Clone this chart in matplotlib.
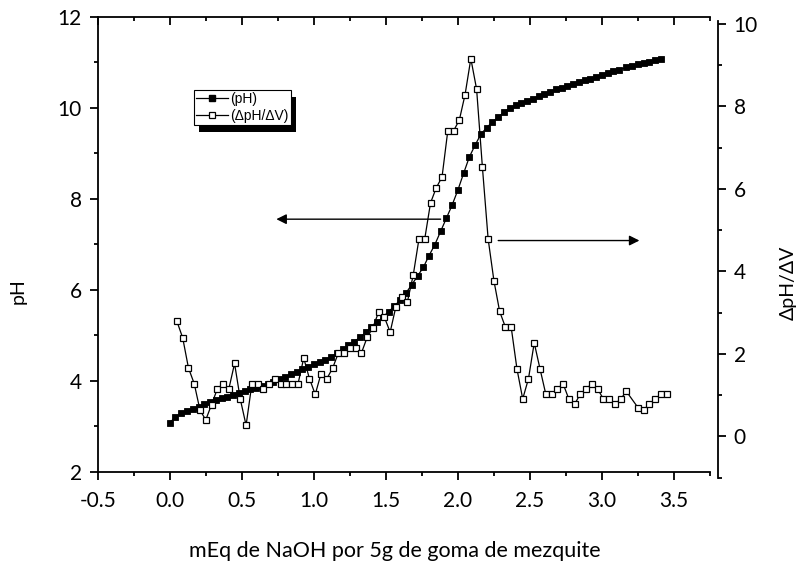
import matplotlib
matplotlib.use("Agg")
import matplotlib.pyplot as plt
from matplotlib.ticker import FixedLocator, FuncFormatter
from matplotlib.lines import Line2D
from matplotlib.patches import Rectangle
from matplotlib.transforms import IdentityTransform

# Titration curve of mesquite gum with NaOH
naoh_ph = [0.00, 0.04, 0.08, 0.12, 0.16, 0.20, 0.24, 0.28, 0.32, 0.36,
           0.40, 0.44, 0.48, 0.52, 0.56, 0.60, 0.64, 0.68, 0.72, 0.76,
           0.80, 0.84, 0.88, 0.92, 0.96, 1.00, 1.04, 1.08, 1.12, 1.16,
           1.20, 1.24, 1.28, 1.32, 1.36, 1.40, 1.44, 1.48, 1.52, 1.56,
           1.60, 1.64, 1.68, 1.72, 1.76, 1.80, 1.84, 1.88, 1.92, 1.96,
           2.00, 2.04, 2.08, 2.12, 2.16, 2.20, 2.24, 2.28, 2.32, 2.36,
           2.40, 2.44, 2.48, 2.52, 2.56, 2.60, 2.64, 2.68, 2.72, 2.76,
           2.80, 2.84, 2.88, 2.92, 2.96, 3.00, 3.04, 3.08, 3.12,
           3.17, 3.21, 3.25, 3.29, 3.33, 3.37, 3.41]
ph = [3.08, 3.20, 3.28, 3.33, 3.38, 3.43, 3.48, 3.53, 3.57, 3.61,
      3.65, 3.69, 3.72, 3.78, 3.81, 3.85, 3.89, 3.93, 3.98, 4.03,
      4.09, 4.14, 4.20, 4.26, 4.31, 4.36, 4.41, 4.46, 4.52, 4.60,
      4.69, 4.78, 4.86, 4.95, 5.06, 5.17, 5.28, 5.40, 5.52, 5.64,
      5.78, 5.93, 6.11, 6.30, 6.49, 6.75, 6.99, 7.28, 7.57, 7.86,
      8.19, 8.56, 8.92, 9.18, 9.42, 9.56, 9.69, 9.79, 9.90, 9.99,
      10.05, 10.10, 10.15, 10.20, 10.25, 10.30, 10.35, 10.40, 10.44, 10.48,
      10.52, 10.56, 10.60, 10.64, 10.68, 10.72, 10.76, 10.80, 10.83,
      10.89, 10.92, 10.95, 10.98, 11.01, 11.04, 11.07]

# First derivative dpH/dV
naoh_deriv = [0.05, 0.09, 0.13, 0.17, 0.21, 0.25, 0.29, 0.33, 0.37, 0.41,
              0.45, 0.49, 0.53, 0.57, 0.61, 0.65, 0.69, 0.73, 0.77, 0.81,
              0.85, 0.89, 0.93, 0.97, 1.01, 1.05, 1.09, 1.13, 1.17, 1.21,
              1.25, 1.29, 1.33, 1.37, 1.41, 1.45, 1.49, 1.53, 1.57, 1.61,
              1.65, 1.69, 1.73, 1.77, 1.81, 1.85, 1.89, 1.93, 1.97, 2.01,
              2.05, 2.09, 2.13, 2.17, 2.21, 2.25, 2.29, 2.33, 2.37, 2.41,
              2.45, 2.49, 2.53, 2.57, 2.61, 2.65, 2.69, 2.73, 2.77, 2.81,
              2.85, 2.89, 2.93, 2.97, 3.01, 3.05, 3.09, 3.13, 3.17, 3.25,
              3.29, 3.33, 3.37, 3.41, 3.45]
deriv = [2.79, 2.39, 1.66, 1.28, 0.64, 0.40, 0.77, 1.15, 1.28, 1.15,
         1.77, 0.90, 0.27, 1.27, 1.28, 1.14, 1.26, 1.40, 1.27, 1.27,
         1.27, 1.27, 1.90, 1.40, 1.02, 1.52, 1.40, 1.65, 2.02, 2.02,
         2.15, 2.15, 2.02, 2.40, 2.64, 3.02, 2.89, 2.53, 3.15, 3.39,
         3.27, 3.91, 4.79, 4.79, 5.66, 6.03, 6.29, 7.41, 7.41, 7.67,
         8.29, 9.16, 8.42, 6.54, 4.79, 3.78, 3.03, 2.65, 2.65, 1.64,
         0.91, 1.40, 2.27, 1.64, 1.03, 1.03, 1.15, 1.28, 0.91, 0.78,
         1.03, 1.15, 1.28, 1.15, 0.91, 0.91, 0.78, 0.91, 1.09, 0.70,
         0.65, 0.78, 0.91, 1.03, 1.03]

x_major = [-0.5, 0.0, 0.5, 1.0, 1.5, 2.0, 2.5, 3.0, 3.5]
x_minor = [-0.25, 0.25, 0.75, 1.25, 1.75, 2.25, 2.75, 3.25, 3.75]
ph_major = [2, 4, 6, 8, 10, 12]
ph_minor = [3, 5, 7, 9, 11]
d_major = [0, 2, 4, 6, 8, 10]
d_minor = [-1, 1, 3, 5, 7, 9]

W, H = 800, 565


def px_rect(left, top, right, bottom):
    return [left / W, 1 - bottom / H, (right - left) / W, (bottom - top) / H]


TICK_FONT = ["Lato", "DejaVu Sans"]
LABEL_FONT = ["Lato", "DejaVu Sans"]
plt.rcParams["font.family"] = TICK_FONT

fig = plt.figure(figsize=(W / 100, H / 100), dpi=100)
fig.patch.set_facecolor("white")

# main axes: pH
ax = fig.add_axes(px_rect(97.7, 16.7, 710, 471.7))
ax.patch.set_visible(False)
ax.set_xlim(-0.5, 3.75)
ax.set_ylim(2, 12)
for s in ["left", "bottom", "top"]:
    ax.spines[s].set_linewidth(1.3)
ax.spines["right"].set_visible(False)

ax.xaxis.set_major_locator(FixedLocator(x_major))
ax.xaxis.set_minor_locator(FixedLocator(x_minor))
ax.yaxis.set_major_locator(FixedLocator(ph_major))
ax.yaxis.set_minor_locator(FixedLocator(ph_minor))
ax.xaxis.set_major_formatter(FuncFormatter(lambda v, p: f"{v:.1f}"))
ax.yaxis.set_major_formatter(FuncFormatter(lambda v, p: f"{v:.0f}"))
ax.tick_params(axis="x", which="both", bottom=True, top=True,
               labelbottom=True, labeltop=False, width=1.3)
ax.tick_params(axis="x", which="major", length=5.5, pad=8.5, labelsize=15)
ax.tick_params(axis="x", which="minor", length=3)
ax.tick_params(axis="y", which="both", left=True, right=False, width=1.3,
               direction="out")
ax.tick_params(axis="y", which="major", length=5.5, pad=6, labelsize=15)
ax.tick_params(axis="y", which="minor", length=3)
# ticks on top spine point inward
for t in ax.xaxis.get_major_ticks() + ax.xaxis.get_minor_ticks():
    t.tick2line.set_marker(3)  # TICKDOWN

ax.plot(naoh_ph, ph, color="black", lw=0.9, marker="s", ms=4.8,
        mfc="black", mec="black", mew=0.6, zorder=3)

# left-pointing arrow towards the pH axis
ax.annotate("", xy=(0.74, 7.55), xytext=(1.88, 7.55),
            arrowprops=dict(arrowstyle="-|>", color="black", lw=1.0,
                            mutation_scale=15, shrinkA=0, shrinkB=0))

# secondary axes: dpH/dV, right spine offset from the frame
ax2 = fig.add_axes(px_rect(97.7, 20.7, 717.7, 477.7))
ax2.patch.set_visible(False)
ax2.set_xlim(-0.5, 3.75 + 7.7 / 144.1)
ax2.set_ylim(-1, 10.08)
for s in ["left", "bottom", "top"]:
    ax2.spines[s].set_visible(False)
ax2.spines["right"].set_linewidth(1.3)
ax2.xaxis.set_visible(False)
ax2.yaxis.tick_right()
ax2.yaxis.set_major_locator(FixedLocator(d_major))
ax2.yaxis.set_minor_locator(FixedLocator(d_minor))
ax2.yaxis.set_major_formatter(FuncFormatter(lambda v, p: f"{v:.0f}"))
ax2.tick_params(axis="y", which="both", width=1.3, direction="out")
ax2.tick_params(axis="y", which="major", length=5.5, pad=6, labelsize=15)
ax2.tick_params(axis="y", which="minor", length=3)

ax2.plot(naoh_deriv, deriv, color="black", lw=0.9, marker="s", ms=4.8,
         mfc="white", mec="black", mew=0.9, zorder=3)

# right-pointing arrow towards the derivative axis
ax2.annotate("", xy=(3.26, 4.75), xytext=(2.28, 4.75),
             arrowprops=dict(arrowstyle="-|>", color="black", lw=1.0,
                             mutation_scale=15, shrinkA=0, shrinkB=0))

# legend with a solid drop shadow
handles = [
    Line2D([], [], color="black", lw=0.9, marker="s", ms=5,
           mfc="black", mec="black"),
    Line2D([], [], color="black", lw=0.9, marker="s", ms=5,
           mfc="white", mec="black", mew=0.9),
]
leg = ax.legend(handles, ["(pH)", "(\u0394pH/\u0394V)"], loc="upper left",
                bbox_to_anchor=(194 / W, 1 - 90 / H),
                bbox_transform=fig.transFigure, frameon=True,
                fancybox=False, edgecolor="black", framealpha=1,
                borderpad=0.15, borderaxespad=0, handlelength=2.3,
                handletextpad=0.15, labelspacing=0.2,
                prop={"family": ["Liberation Sans", "DejaVu Sans"],
                      "size": 10})
leg.get_frame().set_linewidth(0.8)
leg.set_zorder(6)

fig.text(18 / W, 1 - 291 / H, "pH", rotation=90, ha="center", va="center",
         fontsize=14, family=LABEL_FONT)
fig.text(788 / W, 1 - 283 / H, "\u0394pH/\u0394V", rotation=90, ha="center",
         va="center", fontsize=14, family=LABEL_FONT)
fig.text(395 / W, 1 - 551 / H, "mEq de NaOH por 5g de goma de mezquite",
         ha="center", va="center", fontsize=15.5, family=LABEL_FONT)

fig.canvas.draw()
bb = leg.get_window_extent()
shadow = Rectangle((bb.x0 + 5, bb.y0 - 7), bb.width, bb.height,
                   transform=IdentityTransform(), facecolor="black",
                   edgecolor="none", zorder=5.5)
ax.add_artist(shadow)

fig.savefig("out.png", dpi=100)
